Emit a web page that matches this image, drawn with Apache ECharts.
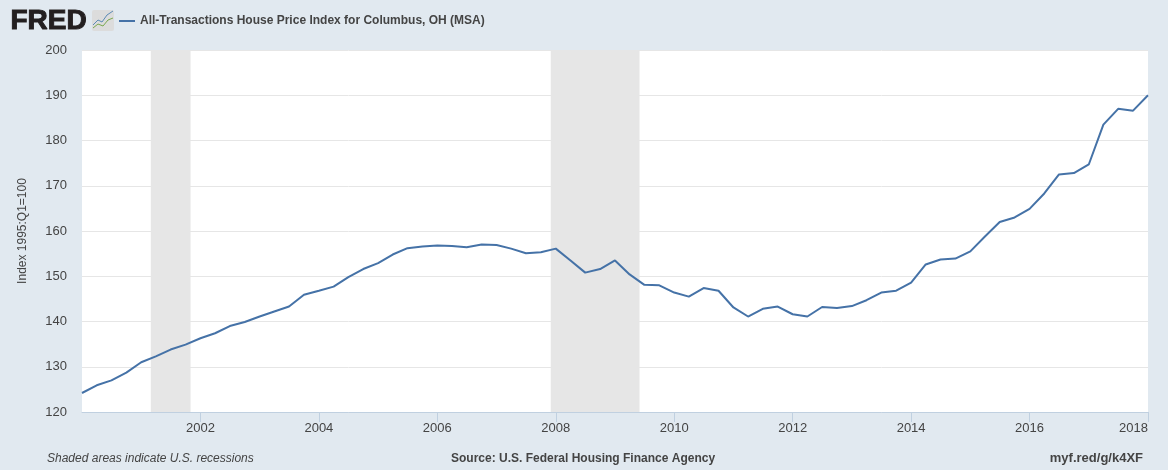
<!DOCTYPE html>
<html>
<head>
<meta charset="utf-8">
<title>All-Transactions House Price Index for Columbus, OH (MSA)</title>
<script src="https://cdn.jsdelivr.net/npm/echarts@6/dist/echarts.min.js"></script>
<style>
  html, body { margin: 0; padding: 0; background: #e1e9f0; }
  #chart { width: 1168px; height: 470px; }
</style>
</head>
<body>
<div id="chart"></div>
<script>
const seriesName = 'All-Transactions House Price Index for Columbus, OH (MSA)';
const quarters = [
  '2000-01-01', '2000-04-01', '2000-07-01', '2000-10-01',
  '2001-01-01', '2001-04-01', '2001-07-01', '2001-10-01',
  '2002-01-01', '2002-04-01', '2002-07-01', '2002-10-01',
  '2003-01-01', '2003-04-01', '2003-07-01', '2003-10-01',
  '2004-01-01', '2004-04-01', '2004-07-01', '2004-10-01',
  '2005-01-01', '2005-04-01', '2005-07-01', '2005-10-01',
  '2006-01-01', '2006-04-01', '2006-07-01', '2006-10-01',
  '2007-01-01', '2007-04-01', '2007-07-01', '2007-10-01',
  '2008-01-01', '2008-04-01', '2008-07-01', '2008-10-01',
  '2009-01-01', '2009-04-01', '2009-07-01', '2009-10-01',
  '2010-01-01', '2010-04-01', '2010-07-01', '2010-10-01',
  '2011-01-01', '2011-04-01', '2011-07-01', '2011-10-01',
  '2012-01-01', '2012-04-01', '2012-07-01', '2012-10-01',
  '2013-01-01', '2013-04-01', '2013-07-01', '2013-10-01',
  '2014-01-01', '2014-04-01', '2014-07-01', '2014-10-01',
  '2015-01-01', '2015-04-01', '2015-07-01', '2015-10-01',
  '2016-01-01', '2016-04-01', '2016-07-01', '2016-10-01',
  '2017-01-01', '2017-04-01', '2017-07-01', '2017-10-01',
  '2018-01-01'
];
const indexValues = [
  124.2, 125.9, 127.0, 128.7,
  131.0, 132.3, 133.8, 134.9,
  136.3, 137.4, 139.0, 139.9,
  141.1, 142.2, 143.3, 145.9,
  146.8, 147.7, 149.8, 151.6,
  152.9, 154.8, 156.2, 156.6,
  156.8, 156.7, 156.4, 157.0,
  156.9, 156.1, 155.1, 155.3,
  156.1, 153.5, 150.8, 151.6,
  153.5, 150.4, 148.1, 148.0,
  146.4, 145.5, 147.4, 146.8,
  143.1, 141.1, 142.8, 143.3,
  141.6, 141.1, 143.2, 143.0,
  143.4, 144.7, 146.4, 146.8,
  148.6, 152.6, 153.7, 153.9,
  155.5, 158.8, 162.0, 163.0,
  164.9, 168.3, 172.5, 172.8,
  174.7, 183.5, 187.0, 186.6,
  190.0
];
const recessionStarts = ['2001-03-01', '2007-12-01'];
const recessionEnds = ['2001-11-01', '2009-06-01'];
const xTickYears = [2002, 2004, 2006, 2008, 2010, 2012, 2014, 2016, 2018];

// date string -> fractional year, the x axis is a plain value axis
function toYear(s) {
  const y = parseInt(s.slice(0, 4), 10);
  const start = Date.UTC(y, 0, 1);
  return y + (Date.parse(s) - start) / (Date.UTC(y + 1, 0, 1) - start);
}

const labelFont = '"Liberation Sans", Arial, sans-serif';
const textColor = '#444444';

const chart = echarts.init(document.getElementById('chart'), null, { renderer: 'canvas' });

chart.setOption({
  animation: false,
  backgroundColor: '#e1e9f0',
  textStyle: { fontFamily: labelFont },
  grid: { show: true, backgroundColor: '#ffffff', borderWidth: 0, left: 82, right: 20, top: 50, bottom: 58, containLabel: false },
  legend: {
    left: 114,
    top: 10,
    itemWidth: 16,
    itemHeight: 2,
    itemGap: 5,
    icon: 'rect',
    textStyle: { color: textColor, fontSize: 12, fontWeight: 'bold', padding: [0, 0, 0, 0] },
    data: [seriesName]
  },
  xAxis: {
    type: 'value',
    min: 2000,
    max: 2018,
    interval: 2,
    axisLine: { show: true, lineStyle: { color: '#c0d0e0', width: 1 } },
    axisTick: {
      show: true,
      length: 10,
      lineStyle: { color: '#c0d0e0' },
      customValues: xTickYears
    },
    axisLabel: {
      color: textColor,
      fontSize: 13,
      margin: 10,
      alignMaxLabel: 'right',
      customValues: xTickYears,
      formatter: value => String(value)
    },
    splitLine: { show: false }
  },
  yAxis: {
    type: 'value',
    min: 120,
    max: 200,
    interval: 10,
    name: 'Index 1995:Q1=100',
    nameLocation: 'middle',
    nameGap: 53,
    nameTextStyle: { color: textColor, fontSize: 12 },
    axisLine: { show: false },
    axisTick: { show: false },
    axisLabel: { color: textColor, fontSize: 13, margin: 15, padding: [2, 0, 0, 0] },
    splitLine: { lineStyle: { color: '#e6e6e6', width: 1 } }
  },
  series: [{
    name: seriesName,
    type: 'line',
    data: quarters.map((q, i) => [toYear(q), indexValues[i]]),
    showSymbol: false,
    symbol: 'none',
    lineStyle: { color: '#4572a7', width: 2 },
    itemStyle: { color: '#4572a7' },
    markArea: {
      silent: true,
      itemStyle: { color: '#e6e6e6' },
      data: recessionStarts.map((s, i) => [{ xAxis: toYear(s) }, { xAxis: toYear(recessionEnds[i]) }])
    }
  }],
  graphic: [
    // FRED logo
    { type: 'text', left: 10, top: 7, style: { text: 'FRED', fill: '#231f20', stroke: '#231f20', lineWidth: 1, font: 'bold 28px "Liberation Sans", Arial, sans-serif' } },
    { type: 'rect', left: 92, top: 10, shape: { width: 22, height: 21, r: 2 }, style: { fill: '#dcdcdc' } },
    { type: 'polyline', shape: { points: [[93, 25], [98, 20], [102, 22], [107, 15], [113, 11]] }, style: { stroke: '#5b8ab5', fill: null, lineWidth: 1 } },
    { type: 'polyline', shape: { points: [[93, 28], [98, 24], [103, 26], [108, 20], [113, 18]] }, style: { stroke: '#7aa84f', fill: null, lineWidth: 1 } },
    // footer
    { type: 'text', left: 47, top: 453, style: { text: 'Shaded areas indicate U.S. recessions', fill: textColor, font: 'italic 12px "Liberation Sans", Arial, sans-serif' } },
    { type: 'text', left: 451, top: 453, style: { text: 'Source: U.S. Federal Housing Finance Agency', fill: textColor, font: 'bold 12px "Liberation Sans", Arial, sans-serif' } },
    { type: 'text', right: 25, top: 452, style: { text: 'myf.red/g/k4XF', fill: textColor, font: 'bold 13px "Liberation Sans", Arial, sans-serif' } }
  ]
});
</script>
</body>
</html>
